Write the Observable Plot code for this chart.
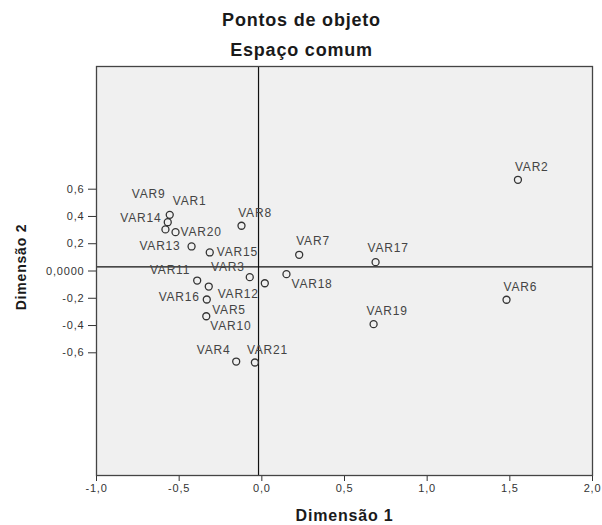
<!DOCTYPE html>
<html>
<head>
<meta charset="utf-8">
<script src="https://cdn.jsdelivr.net/npm/d3@7"></script>
<script src="https://cdn.jsdelivr.net/npm/@observablehq/plot@0.6"></script>
<style>
  body { margin: 0; background: #fff; }
  #chart svg { font-family: "Liberation Sans", Arial, sans-serif; }
  #chart svg text { letter-spacing: 0.8px; }
</style>
</head>
<body>
<div id="chart"></div>
<script>
// ---- data ----
const names = ["VAR1","VAR2","VAR3","VAR4","VAR5","VAR6","VAR7","VAR8","VAR9","VAR10",
               "VAR11","VAR12","VAR13","VAR14","VAR15","VAR16","VAR17","VAR18","VAR19","VAR20","VAR21"];
const dim1 = [-0.557, 1.549, -0.073, -0.155, -0.321, 1.480, 0.226, -0.123, -0.569, -0.336,
              -0.391, 0.018, -0.425, -0.583, -0.315, -0.333, 0.688, 0.149, 0.676, -0.522, -0.042];
const dim2 = [0.412, 0.669, -0.045, -0.664, -0.114, -0.211, 0.119, 0.332, 0.358, -0.332,
              -0.070, -0.090, 0.180, 0.305, 0.136, -0.209, 0.065, -0.023, -0.390, 0.285, -0.671];
const xTicks = [-1, -0.5, 0, 0.5, 1, 1.5, 2];
const yTicks = [-0.6, -0.4, -0.2, 0, 0.2, 0.4, 0.6];
const titleText = "Pontos de objeto";
const subtitleText = "Espaço comum";
const xLabel = "Dimensão 1";
const yLabel = "Dimensão 2";
const refX = [-0.02];
const refY = [0.03];

// ---- label layout (pixel offsets, anchor) ----
const labelLayout = {
  VAR1: [3, -13.6, "start"],  VAR2: [-3, -13, "start"],  VAR3: [-5, -10, "end"],
  VAR4: [-5.7, -11, "end"],   VAR5: [3.4, 24, "start"],  VAR6: [-3, -12.7, "start"],
  VAR7: [-3, -13.6, "start"], VAR8: [-3.3, -12.6, "start"], VAR9: [-2.3, -27.7, "end"],
  VAR10: [4, 10, "start"],    VAR11: [-7, -10, "end"],   VAR12: [-6, 11, "end"],
  VAR13: [-11, 0, "end"],     VAR14: [-4, -11.3, "end"], VAR15: [7, 0, "start"],
  VAR16: [-7, -2, "end"],     VAR17: [-8, -13.7, "start"], VAR18: [5, 10, "start"],
  VAR19: [-7, -13.4, "start"], VAR20: [5, 0, "start"],   VAR21: [-8, -12, "start"]
};

const points = names.map((n, i) => ({name: n, d1: dim1[i], d2: dim2[i]}));
const fmtX = d => d.toFixed(1).replace(".", ",");
const fmtY = d => d === 0 ? "0,0000" : d.toFixed(1).replace(".", ",");

const labelMarks = names.map(n => {
  const [dx, dy, anchor] = labelLayout[n];
  return Plot.text(points.filter(p => p.name === n), {
    x: "d1", y: "d2", text: "name", dx, dy, textAnchor: anchor,
    fill: "#444", fontSize: 12, style: "letter-spacing:1.5px"
  });
});

const chart = Plot.plot({
  width: 602,
  height: 525,
  marginLeft: 96,
  marginRight: 10,
  marginTop: 66,
  marginBottom: 50,
  style: {fontFamily: "'Liberation Sans', Arial, sans-serif", fontSize: "11px", color: "#333", background: "#fff", overflow: "visible"},
  x: {domain: [-1, 2], ticks: xTicks, tickFormat: fmtX, tickSize: 6, tickPadding: 3, label: null},
  y: {domain: [-1.5, 1.5], ticks: yTicks, tickFormat: fmtY, tickSize: 8, tickPadding: 4, label: null},
  marks: [
    Plot.frame({fill: "#f0f0f0"}),
    Plot.ruleX(refX, {stroke: "#111", strokeWidth: 1.2}),
    Plot.ruleY(refY, {stroke: "#111", strokeWidth: 1.2}),
    Plot.dot(points, {x: "d1", y: "d2", r: 3.5, stroke: "#333", strokeWidth: 1.3, fill: "none"}),
    ...labelMarks,
    Plot.frame({stroke: "#444", strokeWidth: 1.3}),
    Plot.text([titleText], {text: d => d, frameAnchor: "top", textAnchor: "middle", lineAnchor: "middle", dx: -43, dy: -46, fontSize: 18, fontWeight: "bold", fill: "#1a1a1a"}),
    Plot.text([subtitleText], {text: d => d, frameAnchor: "top", textAnchor: "middle", lineAnchor: "middle", dx: -43, dy: -16, fontSize: 18, fontWeight: "bold", fill: "#1a1a1a"}),
    Plot.text([xLabel], {text: d => d, frameAnchor: "bottom", textAnchor: "middle", lineAnchor: "middle", dy: 40, fontSize: 16, fontWeight: "bold", fill: "#1a1a1a"}),
    Plot.text([yLabel], {text: d => d, frameAnchor: "left", textAnchor: "middle", lineAnchor: "middle", dx: -75, dy: -4, rotate: -90, fontSize: 14, fontWeight: "bold", fill: "#1a1a1a"})
  ]
});
document.getElementById("chart").appendChild(chart);
</script>
</body>
</html>
